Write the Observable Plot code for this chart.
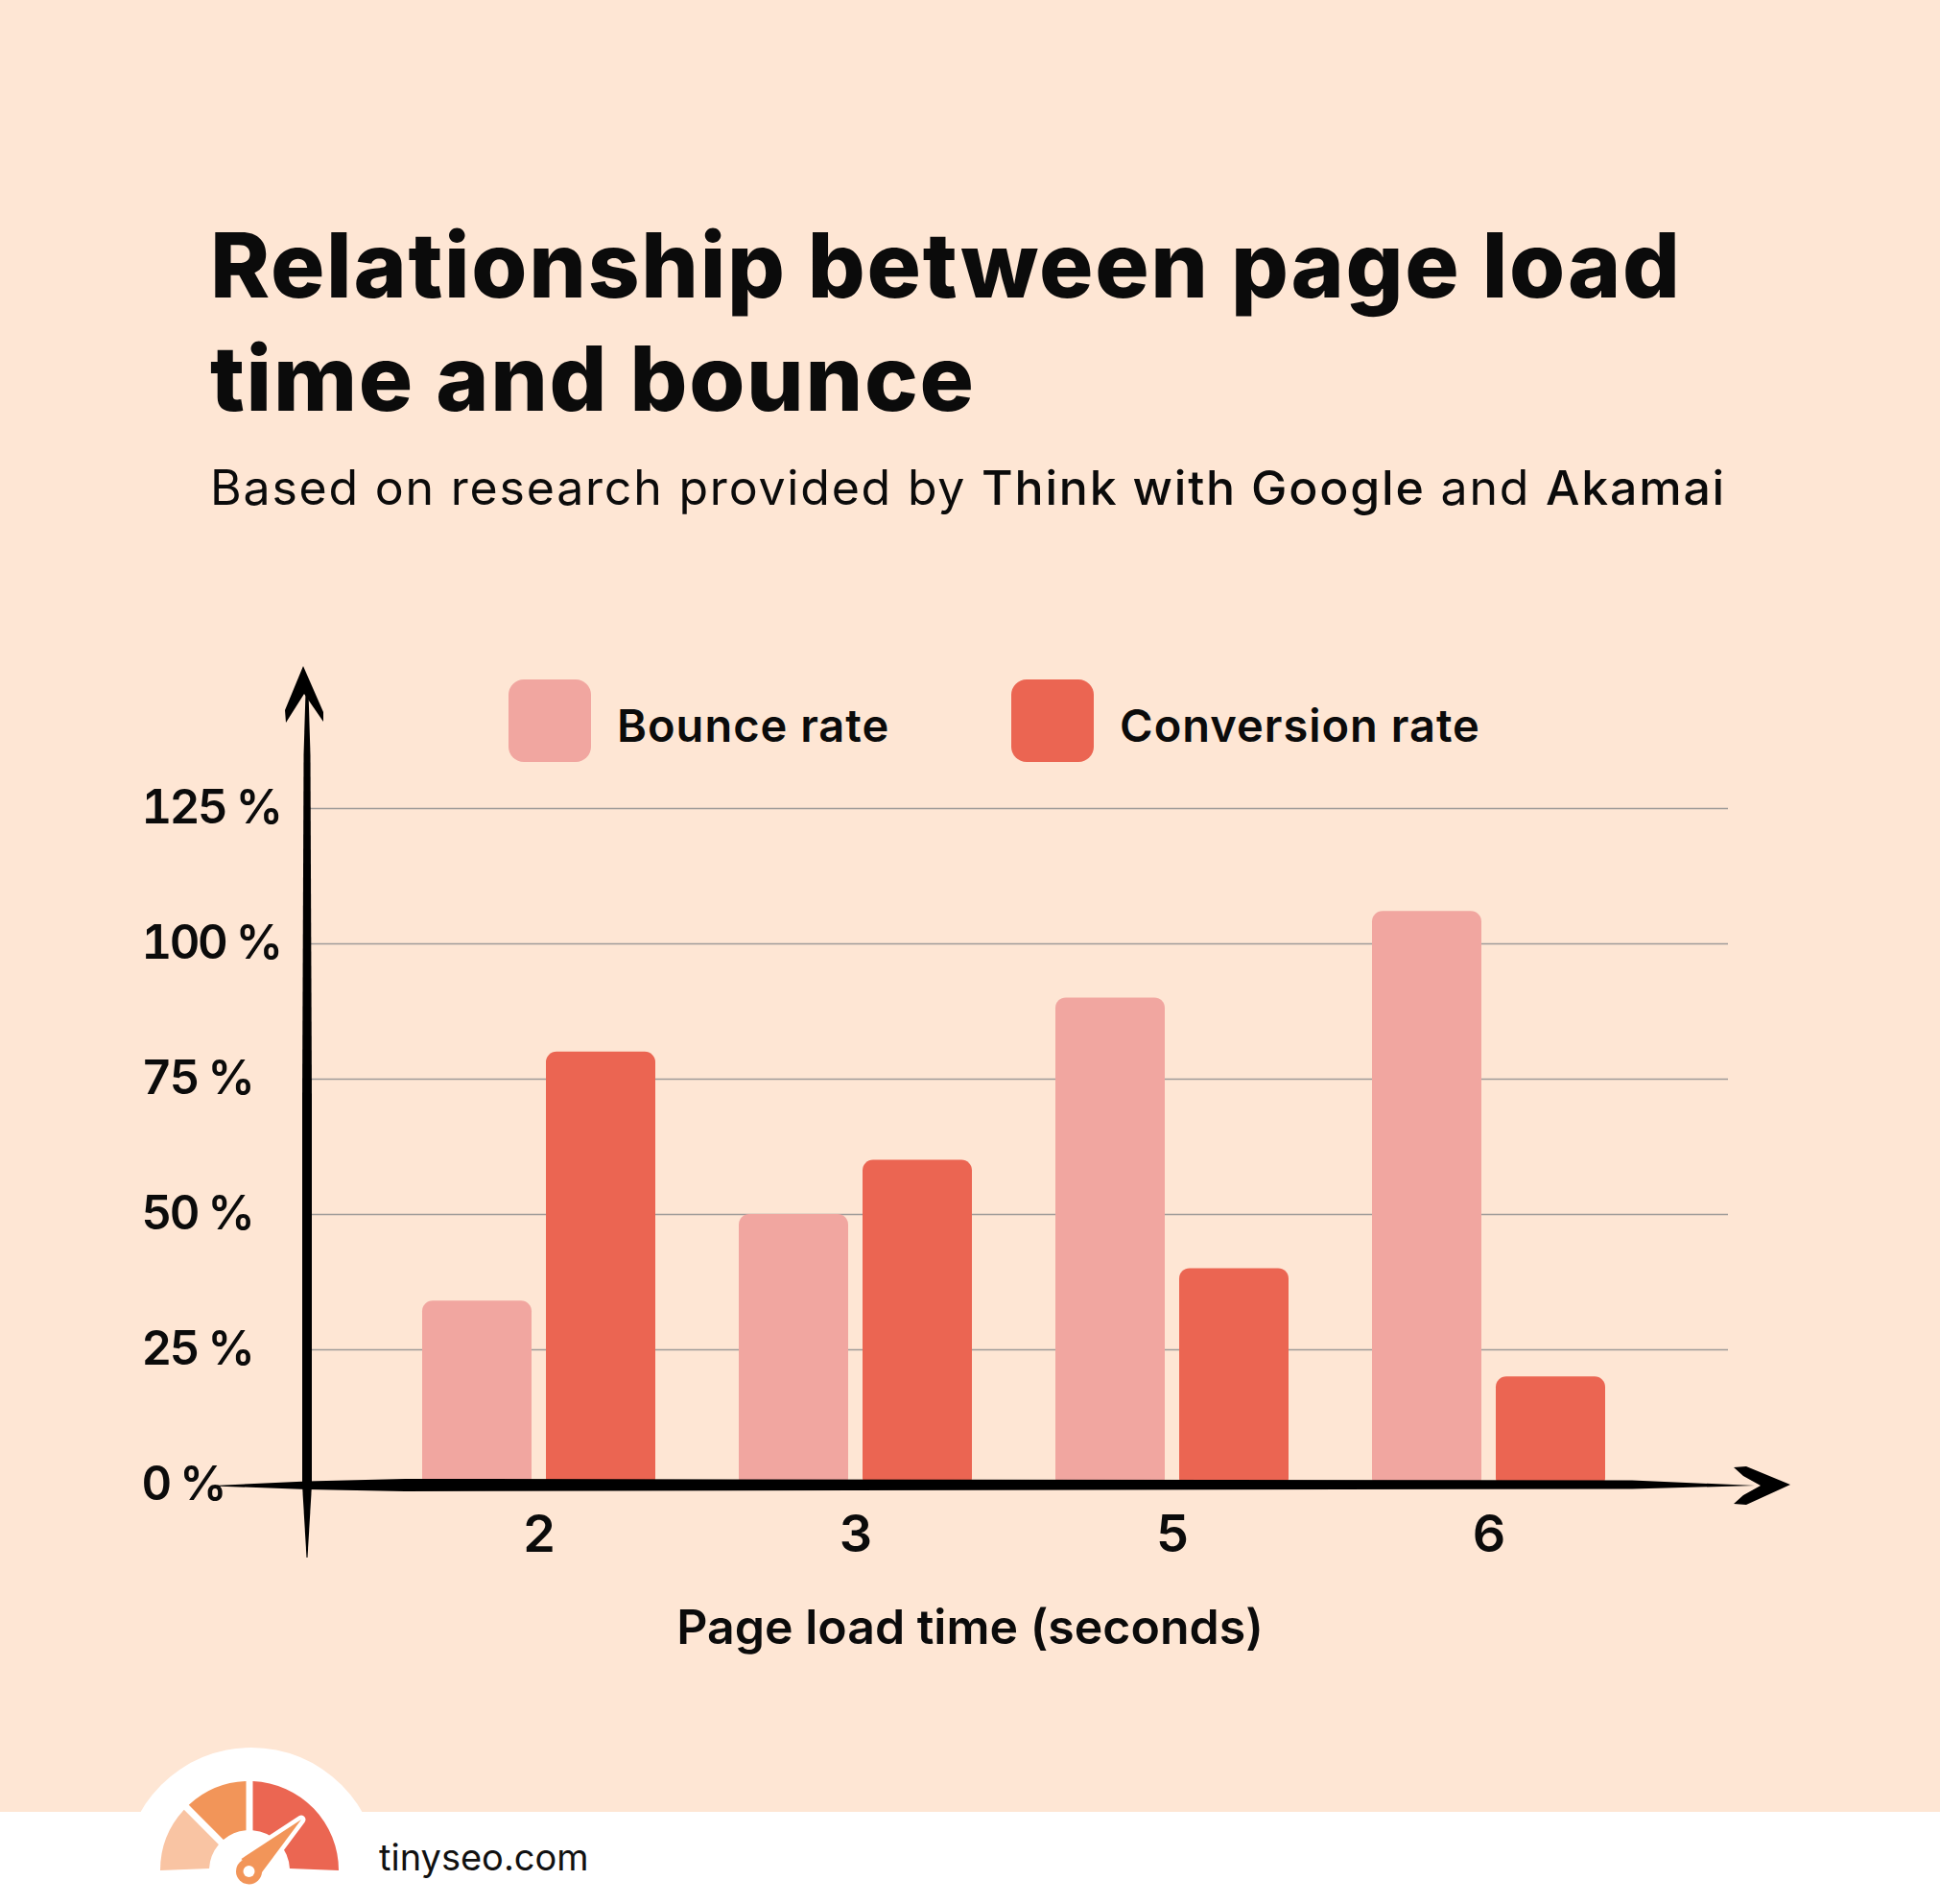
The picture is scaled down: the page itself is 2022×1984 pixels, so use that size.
<!DOCTYPE html>
<html>
<head>
<meta charset="utf-8">
<script src="https://cdn.jsdelivr.net/npm/d3@7"></script>
<script src="https://cdn.jsdelivr.net/npm/@observablehq/plot@0.6"></script>
<style>
  html, body { margin: 0; padding: 0; }
  body { width: 2022px; height: 1984px; background: #FEE6D4; position: relative; overflow: hidden; font-family: Inter, "Noto Sans", sans-serif; color: #0b0b0b; }
  #title { position: absolute; left: 219px; top: 217px; font-size: 94px; line-height: 118px; font-weight: 800; letter-spacing: 1.7px; margin: 0; white-space: nowrap; }
  #subtitle { position: absolute; left: 219px; top: 478px; font-size: 50px; line-height: 60px; font-weight: 400; letter-spacing: 1.8px; white-space: nowrap; }
  #subtitle b { font-weight: 500; }
  .leg { position: absolute; top: 708px; height: 86px; display: flex; align-items: center; font-size: 47px; font-weight: 600; white-space: nowrap; letter-spacing: 1px; }
  .leg span { position: relative; top: 4px; }
  .sw { width: 86px; height: 86px; border-radius: 16px; margin-right: 27px; }
  #chart { position: absolute; left: 0; top: 660px; }
  #footer { position: absolute; left: 0; top: 0; }
  #site { position: absolute; left: 395px; top: 1910px; font-size: 38px; line-height: 50px; font-weight: 400; color: #111; }
</style>
</head>
<body>
<h1 id="title">Relationship between page load<br>time and bounce</h1>
<div id="subtitle">Based on research provided by <b>Think with Google</b> and <b>Akamai</b></div>
<div id="legend"></div>
<div id="chart"></div>
<svg id="footer" width="2022" height="1984"></svg>
<div id="site">tinyseo.com</div>
<script>
// ---- data ----
const loadTimes = ["2", "3", "5", "6"];
const bounceRate = [34, 50, 90, 106];
const conversionRate = [80, 60, 40, 20];
const seriesNames = ["Bounce rate", "Conversion rate"];
const seriesColors = ["#F1A6A0", "#EB6552"];
const yTicks = [0, 25, 50, 75, 100, 125];
const gridTicks = [25, 50, 75, 100, 125];
const xLabel = "Page load time (seconds)";

const rows = loadTimes.map((t, i) => ({time: t, bounce: bounceRate[i], conversion: conversionRate[i]}));

// ---- legend ----
const legendLeft = [530, 1054];
const legend = document.getElementById("legend");
seriesNames.forEach((name, i) => {
  const d = document.createElement("div");
  d.className = "leg";
  d.style.left = legendLeft[i] + "px";
  d.innerHTML = `<div class="sw" style="background:${seriesColors[i]}"></div><span>${name}</span>`;
  legend.appendChild(d);
});

// ---- chart ----
const W = 2022, H = 1120;
const plot = Plot.plot({
  width: W,
  height: H,
  marginTop: 182,
  marginBottom: 233,
  marginLeft: 322,
  marginRight: 221,
  style: {background: "transparent", fontFamily: "Inter, 'Noto Sans', sans-serif", color: "#0b0b0b", overflow: "visible"},
  x: {domain: loadTimes, paddingInner: 0.2636, paddingOuter: 0.3727, align: 0.48, axis: null},
  y: {domain: [0, 125], axis: null},
  marks: [
    Plot.ruleY(gridTicks, {stroke: "#9f9b99", strokeWidth: 1.6}),
    Plot.barY(rows, {x: "time", y: "bounce", fill: seriesColors[0], insetRight: 129, insetBottom: -4, rx: 11}),
    Plot.barY(rows, {x: "time", y: "conversion", fill: seriesColors[1], insetLeft: 129, insetBottom: -4, rx: 11}),
    Plot.axisY({ticks: yTicks, tickSize: 0, tickPadding: 0, textAnchor: "start", dx: -175, tickFormat: d => d + " %", fontSize: 49, fontWeight: 600, fill: "#0b0b0b", label: null}),
    Plot.axisX({tickSize: 0, tickPadding: 0, dy: 52, lineAnchor: "middle", fontSize: 54, fontWeight: 600, fill: "#0b0b0b", label: null}),
    Plot.text([xLabel], {frameAnchor: "bottom", dx: -51, dy: 149, text: d => d, fontSize: 50, fontWeight: 600, fill: "#0b0b0b", lineAnchor: "middle"})
  ]
});
document.getElementById("chart").appendChild(plot);

const svg = d3.select(plot);
// tighten the y tick labels (narrower figures in the original)
svg.selectAll('g[aria-label="y-axis tick label"]').attr("letter-spacing", "-2.5px");

// hand-drawn axes, anchored on the plot's own scales
const xs = plot.scale("x"), ys = plot.scale("y");
const fl = xs.range[0], fr = xs.range[1], y0 = ys.apply(0);
const g = svg.append("g").attr("fill", "#000");
const line = d3.line();
const xv = fl - 2;
// horizontal shaft
g.append("path").attr("d", line([
  [fl - 99, y0 + 1], [fl - 2, y0 - 3.5], [fl + 100, y0 - 6], [fr - 100, y0 - 4.5], [fr + 28, y0 + 1],
  [fr - 100, y0 + 4.5], [fl + 100, y0 + 7], [fl - 2, y0 + 5], [fl - 99, y0 + 1.5]
]) + "Z");
// horizontal arrowhead
g.append("path").attr("d", line([
  [6, -18], [19, -19], [65, 0], [19, 21], [6, 20], [16, 11], [34, 1], [16, -9]
].map(([a, b]) => [fr + a, y0 + b])) + "Z");
// vertical shaft
g.append("path").attr("d", line([
  [xv - 0.5, y0 + 76], [xv - 5, y0], [xv - 5, y0 - 400], [xv - 3.5, y0 - 760], [xv - 1.5, y0 - 826],
  [xv + 1.5, y0 - 826], [xv + 3.5, y0 - 760], [xv + 5, y0 - 400], [xv + 5, y0], [xv + 0.5, y0 + 76]
]) + "Z");
// vertical arrowhead
g.append("path").attr("d", line([
  [-4, -853], [17, -805], [17, -795], [-3, -824], [-22, -794], [-23, -807]
].map(([a, b]) => [xv + a, y0 + b])) + "Z");

// ---- footer logo ----
const f = d3.select("#footer");
f.append("rect").attr("x", 0).attr("y", 1888).attr("width", 2022).attr("height", 96).attr("fill", "#fff");
f.append("circle").attr("cx", 262).attr("cy", 1954).attr("r", 133).attr("fill", "#fff");
const cx = 260, cy = 1949;
const arc = d3.arc().innerRadius(42).outerRadius(93).padRadius(100).padAngle(0.07);
const segs = [[-92.2, -45, "#F9C4A3"], [-45, 0, "#F29559"], [0, 92.2, "#EB6652"]];
segs.forEach(([a0, a1, c]) => {
  f.append("path").attr("transform", `translate(${cx},${cy})`)
    .attr("d", arc({startAngle: a0 * Math.PI / 180, endAngle: a1 * Math.PI / 180})).attr("fill", c);
});
const needle = d3.line()([[314, 1896], [251.5, 1937], [268.5, 1957]]) + "Z";
f.append("path").attr("d", needle).attr("fill", "#fff").attr("stroke", "#fff").attr("stroke-width", 9).attr("stroke-linejoin", "round");
f.append("path").attr("d", needle).attr("fill", "#F29559");
f.append("circle").attr("cx", 259.5).attr("cy", 1950).attr("r", 13.5).attr("fill", "#F29559");
f.append("circle").attr("cx", 259.5).attr("cy", 1950).attr("r", 6).attr("fill", "#fff");
</script>
</body>
</html>
